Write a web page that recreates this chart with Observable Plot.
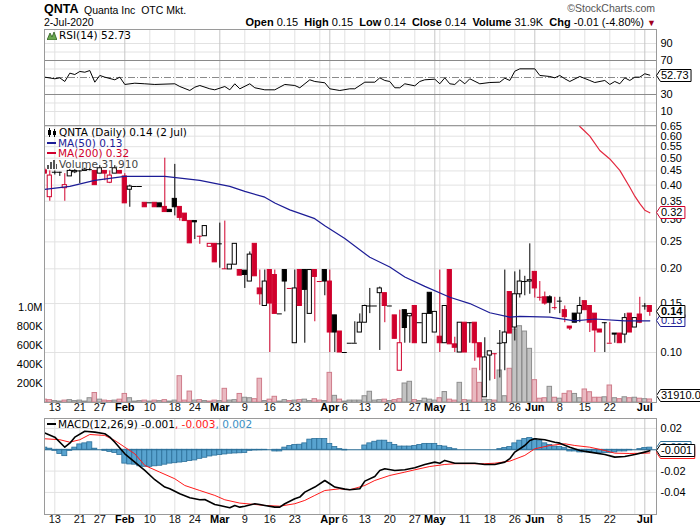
<!DOCTYPE html>
<html><head><meta charset="utf-8">
<script src="https://cdn.jsdelivr.net/npm/d3@7"></script>
<script src="https://cdn.jsdelivr.net/npm/@observablehq/plot@0.6"></script>
<style>
body{margin:0;background:#fff;}
#chart{position:relative;width:700px;height:530px;overflow:hidden;font-family:"Liberation Sans",Arial,sans-serif;color:#000;}
.t{position:absolute;line-height:1;white-space:nowrap;}
.lg{font-family:"DejaVu Sans",Verdana,sans-serif;font-size:10.5px;}
.dash{display:inline-block;width:9px;height:2px;vertical-align:middle;margin-right:2px;position:relative;top:-1px;}
</style></head><body>
<div id="chart"></div>
<script>
// ---------- data ----------
const days = ("01-09 01-10 01-13 01-14 01-15 01-16 01-17 01-21 01-22 01-23 01-24 01-27 01-28 01-29 01-30 01-31 " +
 "02-03 02-04 02-05 02-06 02-07 02-10 02-11 02-12 02-13 02-14 02-18 02-19 02-20 02-21 02-24 02-25 02-26 02-27 02-28 " +
 "03-02 03-03 03-04 03-05 03-06 03-09 03-10 03-11 03-12 03-13 03-16 03-17 03-18 03-19 03-20 03-23 03-24 03-25 03-26 03-27 03-30 03-31 " +
 "04-01 04-02 04-03 04-06 04-07 04-08 04-09 04-13 04-14 04-15 04-16 04-17 04-20 04-21 04-22 04-23 04-24 04-27 04-28 04-29 04-30 " +
 "05-01 05-04 05-05 05-06 05-07 05-08 05-11 05-12 05-13 05-14 05-15 05-18 05-19 05-20 05-21 05-22 05-26 05-27 05-28 05-29 " +
 "06-01 06-02 06-03 06-04 06-05 06-08 06-09 06-10 06-11 06-12 06-15 06-16 06-17 06-18 06-19 06-22 06-23 06-24 06-25 06-26 06-29 06-30 " +
 "07-01 07-02").split(" ");

const open = [.452,.362,.445,.445,.39,.43,.445,.45,.45,.455,
 .45,.44,.45,.408,.44,.45,.43,.385,.3955,.3955,
 .3455,.3455,.3455,.344,.334,.326,.357,.334,.316,.297,
 .297,.262,.262,.240,.246,.246,.20,.199,.207,.198,
 .197,.18,.246,.17,.147,.198,.19,.1377,.198,.17,
 .108,.198,.198,.1377,.198,.18,.198,.18,.136,.119,
 .10,.108,.108,.118,.128,.147,.147,.1635,.1635,.147,
 .136,.086,.142,.135,.147,.128,.108,.164,.118,.114,
 .108,.198,.107,.10,.128,.128,.128,.108,.069,.0975,
 .099,.108,.108,.165,.123,.162,.18,.18,.195,.158,
 .158,.158,.145,.153,.142,.124,.138,.138,.153,.147,
 .138,.121,.128,.108,.117,.117,.116,.138,.123,.137,
 .147,.147];
const high = [.46,.45,.45,.445,.44,.455,.455,.45,.46,.46,
 .45,.47,.45,.45,.47,.45,.44,.40,.3955,.3955,
 .3455,.3455,.3455,.344,.50,.326,.475,.334,.316,.297,
 .297,.262,.285,.246,.246,.292,.297,.207,.246,.198,
 .197,.23,.246,.198,.198,.198,.198,.1377,.198,.17,
 .198,.198,.198,.198,.198,.18,.198,.198,.136,.119,
 .10,.108,.129,.1377,.148,.17,.147,.172,.1635,.147,
 .136,.142,.142,.1377,.147,.128,.1377,.164,.14,.198,
 .147,.198,.1135,.128,.128,.128,.128,.108,.113,.101,
 .099,.12,.198,.165,.195,.198,.188,.246,.195,.18,
 .165,.16,.158,.158,.147,.124,.138,.158,.153,.147,
 .138,.121,.128,.128,.117,.117,.138,.138,.133,.158,
 .15,.147];
const low = [.44,.35,.435,.43,.35,.43,.44,.405,.45,.45,
 .40,.44,.415,.405,.44,.44,.344,.333,.3955,.3955,
 .333,.3455,.333,.333,.32,.32,.31,.297,.297,.247,
 .255,.245,.262,.240,.211,.201,.199,.199,.207,.189,
 .17,.18,.188,.148,.147,.10,.1377,.1377,.14,.17,
 .108,.147,.108,.1377,.129,.18,.16,.10,.10,.10,
 .10,.108,.108,.118,.128,.138,.147,.1017,.128,.147,
 .112,.086,.108,.108,.108,.128,.108,.1377,.118,.10,
 .108,.107,.10,.10,.10,.108,.093,.086,.069,.079,
 .08,.081,.086,.117,.11,.157,.16,.162,.157,.153,
 .148,.138,.142,.138,.128,.12,.128,.128,.142,.118,
 .10,.118,.10,.108,.108,.108,.108,.118,.123,.127,
 .142,.135];
const close = [.44,.433,.445,.445,.40,.45,.45,.45,.455,.455,
 .40,.46,.44,.433,.46,.44,.344,.3955,.3955,.3955,
 .333,.3455,.333,.333,.32,.32,.333,.305,.297,.247,
 .294,.262,.285,.246,.211,.246,.20,.207,.246,.189,
 .19,.225,.188,.162,.18,.150,.1377,.1377,.18,.17,
 .17,.147,.168,.198,.187,.18,.18,.118,.118,.10,
 .10,.108,.108,.128,.147,.147,.147,.17,.147,.147,
 .112,.108,.1225,.1377,.108,.128,.1377,.1377,.14,.108,
 .147,.107,.104,.128,.10,.128,.108,.096,.096,.101,
 .099,.108,.118,.117,.162,.18,.18,.182,.17,.158,
 .15,.151,.145,.153,.134,.122,.128,.147,.142,.128,
 .12,.118,.128,.108,.116,.108,.133,.118,.133,.128,
 .147,.14];
const volumeK = [30,25,15,10,20,25,15,20,10,45,
 100,30,20,15,20,30,90,45,10,15,
 20,10,20,15,25,10,20,277,20,115,
 20,25,15,10,20,15,144,20,25,90,
 50,45,35,250,15,30,60,10,25,15,
 20,25,30,15,35,20,15,312,70,30,
 10,20,20,20,66,113,20,25,30,15,
 25,35,200,218,25,15,40,30,20,45,
 110,30,20,207,25,20,355,207,30,25,
 20,337,66,355,768,803,747,565,235,40,
 45,165,50,40,91,117,90,45,137,108,
 50,50,55,179,45,35,55,45,50,40,
 35,31.91];

const ma50 = [["01-09",.386],["01-16",.396],["01-24",.416],["02-03",.430],["02-13",.430],["02-25",.416],["03-04",.396],
 ["03-09",.380],["03-13",.362],["03-17",.345],["03-20",.326],["03-27",.303],["03-31",.286],["04-06",.257],["04-14",.220],
 ["04-20",.203],["04-23",.187],["04-29",.173],["05-06",.158],["05-12",.150],["05-18",.139],["05-22",.134],["05-27",.135],
 ["06-04",.134],["06-11",.130],["06-17",.132],["06-25",.130],["07-02",.130]];
const ma200 = [["06-12",.650],["06-15",.625],["06-16",.600],["06-18",.533],["06-22",.497],["06-24",.452],["06-26",.393],
 ["06-29",.365],["06-30",.343],["07-01",.325],["07-02",.318]];

const rsi = [["01-09",50.4],["01-13",48.5],["01-14",49.6],["01-15",45.3],["01-16",55.1],["01-17",53.5],["01-21",57.1],["01-22",56.2],["01-23",58.2],
 ["01-24",44.5],["01-27",52.4],["01-28",50.4],["01-30",47.3],["01-31",50.4],["02-03",41.8],["02-05",43.3],["02-07",42.6],["02-11",41.8],
 ["02-18",42.6],["02-19",39.4],["02-21",34.7],["02-24",38.6],["02-25",40.6],["02-27",36.7],["02-28",35.5],["03-03",39.4],["03-04",35.5],
 ["03-05",42.6],["03-06",36.7],["03-10",42.6],["03-11",37.9],["03-13",35.5],["03-17",35.5],["03-19",41.8],["03-23",40.6],["03-24",37.9],
 ["03-26",47.3],["03-27",45.3],["03-31",43.8],["04-01",36.7],["04-03",34.7],["04-07",36.7],["04-08",36.7],["04-13",44.5],["04-15",44.5],
 ["04-16",49.6],["04-17",46.5],["04-20",45.3],["04-21",37.9],["04-22",37.9],["04-23",42.6],["04-27",40.2],["04-28",45.3],["04-29",47.3],
 ["05-01",48.0],["05-04",42.6],["05-05",49.6],["05-06",42.6],["05-07",41.8],["05-08",47.3],["05-11",42.6],["05-12",48.5],["05-14",42.6],
 ["05-18",44.1],["05-20",44.5],["05-21",49.2],["05-22",46.5],["05-26",57.4],["05-27",60.2],["06-01",60.2],["06-02",52.4],["06-04",51.2],
 ["06-05",49.6],["06-08",52.4],["06-09",48.5],["06-10",45.3],["06-12",51.2],["06-16",46.5],["06-17",44.1],["06-19",46.5],["06-22",41.8],
 ["06-23",45.3],["06-24",42.6],["06-25",49.6],["06-26",46.5],["06-29",50.4],["06-30",50.4],["07-01",54.4],["07-02",52.73]];

const macd = [["01-09",.0156],["01-13",.0118],["01-15",.0024],["01-16",.0062],["01-17",.0118],["01-22",.0174],["01-24",.0165],["01-28",.015],
 ["01-29",.0118],["01-30",.0071],["02-03",-.0038],["02-05",-.0116],["02-07",-.0194],["02-11",-.0281],["02-13",-.035],["02-14",-.0366],
 ["02-19",-.0413],["02-21",-.045],["02-25",-.0469],["02-26",-.0466],["02-28",-.0513],["03-02",-.0522],["03-04",-.0544],["03-05",-.0522],
 ["03-06",-.0538],["03-09",-.0529],["03-11",-.0506],["03-12",-.0513],["03-13",-.0522],["03-17",-.0538],["03-18",-.0538],["03-19",-.0506],
 ["03-23",-.0459],["03-24",-.0444],["03-25",-.0397],["03-27",-.035],["03-31",-.0288],["04-01",-.0319],["04-02",-.035],["04-06",-.0369],
 ["04-07",-.0375],["04-09",-.0366],["04-13",-.0294],["04-15",-.025],["04-16",-.0194],["04-17",-.0178],["04-21",-.0194],["04-23",-.0188],
 ["04-27",-.0169],["04-29",-.0138],["05-01",-.0116],["05-04",-.0126],["05-05",-.01],["05-07",-.0126],["05-11",-.0126],["05-13",-.0126],
 ["05-15",-.0138],["05-19",-.0138],["05-21",-.0116],["05-22",-.0084],["05-26",-.0022],["05-28",.004],["05-29",.0087],["06-01",.0103],
 ["06-03",.0094],["06-05",.0071],["06-08",.0062],["06-10",.0024],["06-12",-.0007],["06-16",-.0022],["06-19",-.0044],["06-23",-.0069],
 ["06-25",-.0063],["06-29",-.0044],["07-01",-.0022],["07-02",-.001]];
const signal = [["01-09",.0103],["01-14",.0094],["01-16",.0071],["01-21",.0094],["01-23",.0143],["01-28",.0134],["01-30",.0087],["02-03",.0024],
 ["02-05",-.0038],["02-07",-.0147],["02-12",-.021],["02-18",-.0272],["02-20",-.0335],["02-25",-.0382],["02-28",-.0428],["03-03",-.0469],
 ["03-06",-.05],["03-11",-.0513],["03-13",-.0522],["03-18",-.0529],["03-23",-.0506],["03-25",-.0475],["03-27",-.0428],["03-31",-.0382],
 ["04-03",-.0366],["04-07",-.0375],["04-13",-.0335],["04-15",-.0288],["04-20",-.0241],["04-23",-.021],["04-27",-.0188],["04-30",-.0157],
 ["05-05",-.0138],["05-07",-.0131],["05-12",-.0131],["05-15",-.0131],["05-19",-.0126],["05-22",-.0107],["05-28",-.0053],["06-01",.0009],
 ["06-04",.004],["06-09",.0056],["06-11",.004],["06-16",.0024],["06-19",-.0007],["06-23",-.0032],["06-26",-.0035],["07-01",-.0032],["07-02",-.003]];
const hist = [.002,.001,-.001,-.004,-.006,-.001,.002,.005,.006,.007,
 .001,0,-.001,-.002,-.003,-.005,-.013,-.0138,-.014,-.0155,
 -.016,-.016,-.0155,-.015,-.014,-.013,-.0126,-.012,-.0115,-.0106,
 -.010,-.0085,-.0075,-.0063,-.0055,-.005,-.0044,-.0037,-.0035,-.0033,
 -.003,-.001,-.0006,-.0005,-.0004,0,-.0016,-.0016,.002,.0035,
 .0045,.0047,.006,.0095,.010,.010,.010,.0055,.0025,.0006,
 -.0006,0,0,0,.004,.006,.0075,.0085,.0085,.0065,
 .0045,.003,.003,.003,.0035,.0045,.0055,.0055,.0055,.0035,
 .003,.0015,.0005,0,0,0,0,0,0,0,
 0,.0006,.0016,.0025,.006,.0085,.010,.011,.010,.0085,
 .006,.0045,.003,.0025,.0015,-.0016,-.0016,-.0025,-.0025,-.0025,
 -.003,-.003,-.003,-.003,-.0025,-.0016,-.0016,-.0006,0,.0006,
 .0016,.002];

const tickDays = ["01-13","01-21","01-27","02-03","02-10","02-18","02-24","03-02","03-09","03-16","03-23","04-01","04-06",
 "04-13","04-20","04-27","05-01","05-11","05-18","05-26","06-01","06-08","06-15","06-22","07-01"];
const tickLabels = ["13","21","27","Feb","10","18","24","Mar","9","16","23","Apr","6","13","20","27","May","11","18","26","Jun","8","15","22","Jul"];
const extraGridDays = ["03-30","05-04","06-29"];
const priceTicks = [0.10,0.15,0.20,0.25,0.30,0.35,0.40,0.45,0.50,0.55,0.60,0.65];
const volTicks = [200000,400000,600000,800000,1000000];
const rsiTicks = [10,30,70,90];
const macdTicks = [0.02,-0.02,-0.04];

// ---------- derived tables ----------
const ix = d => days.indexOf(d);
const bars = days.map((d, i) => ({
  i, o: open[i], h: high[i], l: low[i], c: close[i], v: volumeK[i] * 1000,
  up: close[i] >= (i > 0 ? close[i - 1] : open[i])
}));
const pairs = arr => arr.map(([d, v]) => ({i: ix(d), v}));
const ticks = tickDays.map((d, k) => ({i: ix(d), label: tickLabels[k], month: /^[A-Z]/.test(tickLabels[k])}));
const monthIdx = ticks.filter(t => t.month).map(t => t.i);
const weekIdx = ticks.filter(t => !t.month).map(t => t.i).concat(extraGridDays.map(ix));

const RED = "#d0002c", BLK = "#000";
const GRID = "#e2e2e2", MGRID = "#c6c6c6", FRAME = "#9a9a9a";
const X = {type: "linear", domain: [-0.06, 122.34], axis: null};
const base = {width: 700, marginLeft: 44, marginRight: 44, style: {background: "transparent", fontFamily: "Liberation Sans, Arial, sans-serif", fontSize: "11px", color: "#000", overflow: "visible"}};
const vgrid = [
  Plot.ruleX(weekIdx, {x: d => d, stroke: GRID}),
  Plot.ruleX(monthIdx, {x: d => d, stroke: MGRID})
];
const root = document.getElementById("chart");
function place(svg, top) {
  svg.style.position = "absolute";
  svg.style.left = "0px";
  svg.style.top = top + "px";
  svg.style.maxWidth = "none";
  root.appendChild(svg);
  return svg;
}
function tag(plot, yv, txt, o) {
  const y = Math.round(plot.scale("y").apply(yv)) + 0.5;
  const g = d3.select(plot).append("g").attr("text-anchor", "start");
  const p = g.append("path");
  const t = g.append("text").attr("x", 661).attr("y", y).attr("dy", "0.36em").text(txt)
    .attr("text-anchor", "start")
    .attr("font-size", 11).attr("font-family", "Liberation Sans, Arial, sans-serif")
    .attr("fill", o.color || "#000").attr("font-weight", o.bold ? "bold" : "normal");
  const w = t.node().getComputedTextLength();
  const h = 6;
  p.attr("d", `M656.5,${y} L660.5,${y - h} L${663.5 + w},${y - h} L${663.5 + w},${y + h} L660.5,${y + h} Z`)
   .attr("fill", "#fff").attr("stroke", o.stroke || "#000");
}
const yAxis = (t, opts) => Plot.axisY(t, {tickSize: 0, fontSize: 11, label: null, ...opts});

// ---------- RSI panel (frame 29..125) ----------
const rsiPlot = Plot.plot({...base, height: 116, marginTop: 10, marginBottom: 10, x: X,
  y: {domain: [-6.5, 106.5], axis: null},
  marks: [
    Plot.ruleY([10,20,40,60,80,90], {stroke: GRID}),
    ...vgrid,
    Plot.ruleY([70,30], {stroke: "#8a8a8a"}),
    Plot.ruleY([50], {stroke: "#8a8a8a", strokeDasharray: "7,2,1,2"}),
    Plot.line(pairs(rsi), {x: "i", y: "v", stroke: "#000", strokeWidth: 1, clip: true}),
    yAxis(rsiTicks, {anchor: "right", tickPadding: 4}),
    Plot.frame({stroke: FRAME})
  ]});
place(rsiPlot, 19);

// ---------- main panel grid layer (frame 125..402) ----------
const priceY = {type: "log", domain: [0.0661, 0.6555], axis: null};
const gridPlot = Plot.plot({...base, height: 307, marginTop: 10, marginBottom: 20, x: X, y: priceY,
  marks: [
    Plot.ruleY(priceTicks, {stroke: GRID}),
    ...vgrid,
    yAxis(priceTicks, {anchor: "right", tickPadding: 4, tickFormat: d => d.toFixed(2)}),
    Plot.text(ticks.filter(t => !t.month), {x: "i", text: "label", frameAnchor: "bottom", dy: 8, fontSize: 11, fill: "#111"}),
    Plot.text(ticks.filter(t => t.month), {x: "i", text: "label", frameAnchor: "bottom", dy: 8, fontSize: 11, fontWeight: "bold", fill: "#000"})
  ]});
place(gridPlot, 115);

// ---------- volume layer ----------
const volPlot = Plot.plot({...base, height: 307, marginTop: 10, marginBottom: 20, x: X,
  y: {domain: [0, 2916000], axis: null},
  marks: [
    Plot.rectY(bars, {x1: d => d.i - 0.45, x2: d => d.i + 0.45, y: "v",
      fill: d => d.up ? "#c3c3c3" : "#e9b9c1", stroke: d => d.up ? "#8e8e8e" : "#cf7d8b", clip: true}),
    yAxis(volTicks, {anchor: "left", tickPadding: 2,
      tickFormat: d => d >= 1e6 ? (d / 1e6).toFixed(1) + "M" : (d / 1e3) + "K"})
  ]});
place(volPlot, 115);

// ---------- candles layer ----------
const doji = bars.filter(d => d.o === d.c);
const body = bars.filter(d => d.o !== d.c);
const candlePlot = Plot.plot({...base, height: 307, marginTop: 10, marginBottom: 20, x: X, y: priceY,
  marks: [
    Plot.ruleX(bars, {x: "i", y1: "l", y2: "h", stroke: d => d.up ? BLK : RED, clip: true}),
    Plot.rect(body, {x1: d => d.i - 0.42, x2: d => d.i + 0.42, y1: "o", y2: "c",
      fill: d => d.c > d.o ? "#fff" : (d.up ? BLK : RED), stroke: d => d.up ? BLK : RED, clip: true}),
    Plot.ruleY(doji, {y: "c", x1: d => d.i - 0.5, x2: d => d.i + 0.5, stroke: d => d.up ? BLK : RED, clip: true}),
    Plot.line(pairs(ma50), {x: "i", y: "v", stroke: "#1c1c96", strokeWidth: 1.2, clip: true}),
    Plot.line(pairs(ma200), {x: "i", y: "v", stroke: "#e3283f", strokeWidth: 1.2, clip: true}),
    Plot.frame({stroke: FRAME})
  ]});
place(candlePlot, 115);

// ---------- MACD panel (frame 418..514) ----------
const hbars = hist.map((v, i) => ({i, v}));
const macdPlot = Plot.plot({...base, height: 122, marginTop: 10, marginBottom: 16, x: X,
  y: {domain: [-0.0607, 0.0293], axis: null},
  marks: [
    Plot.ruleY([0.02, 0, -0.02, -0.04], {stroke: GRID}),
    ...vgrid,
    Plot.rectY(hbars, {x1: d => d.i - 0.5, x2: d => d.i + 0.5, y: "v", fill: "#58a3cf", stroke: "#2b6f99", strokeWidth: 0.8, clip: true}),
    Plot.ruleY([0], {stroke: "#2b6f99"}),
    Plot.line(pairs(signal), {x: "i", y: "v", stroke: "#ff1a1a", strokeWidth: 1, clip: true}),
    Plot.line(pairs(macd), {x: "i", y: "v", stroke: "#000", strokeWidth: 1.6, clip: true}),
    yAxis(macdTicks, {anchor: "right", tickPadding: 4, tickFormat: d => d.toFixed(2)}),
    Plot.text(ticks.filter(t => !t.month), {x: "i", text: "label", frameAnchor: "bottom", dy: 8, fontSize: 11, fill: "#111"}),
    Plot.text(ticks.filter(t => t.month), {x: "i", text: "label", frameAnchor: "bottom", dy: 8, fontSize: 11, fontWeight: "bold", fill: "#000"}),
    Plot.frame({stroke: FRAME})
  ]});
place(macdPlot, 408);

// ---------- value tags ----------
const last = bars[bars.length - 1];
tag(rsiPlot, rsi[rsi.length - 1][1], rsi[rsi.length - 1][1].toFixed(2), {});
tag(candlePlot, ma200[ma200.length - 1][1], "0.32", {stroke: "#d0002c"});
tag(candlePlot, ma50[ma50.length - 1][1], "0.13", {stroke: "#1c1c96", color: "#1c1c96"});
tag(candlePlot, last.c, last.c.toFixed(2), {bold: true});
tag(volPlot, Math.max(last.v, 70000), (last.v).toFixed(1), {});
tag(macdPlot, signal[signal.length - 1][1], "-0.003", {stroke: "#ff1a1a", color: "#ff1a1a"});
tag(macdPlot, hist[hist.length - 1], "0.002", {stroke: "#2b6f99", color: "#2b6f99"});
tag(macdPlot, macd[macd.length - 1][1], "-0.001", {});

// ---------- text: header & legends ----------
const html = `
<div class="t" style="left:44px;top:3px;font-size:12.5px;font-weight:bold;">QNTA</div>
<div class="t" style="left:84px;top:5px;font-size:10.5px;">Quanta Inc&nbsp; OTC Mkt.</div>
<div class="t" style="left:44px;top:16.5px;font-size:10.5px;">2-Jul-2020</div>
<div class="t" style="right:45px;top:3px;font-size:10.5px;color:#555;">&copy;StockCharts.com</div>
<div class="t" style="right:44px;top:16.5px;font-size:11px;">
<b>Open</b> 0.15&nbsp; <b>High</b> 0.15&nbsp; <b>Low</b> 0.14&nbsp; <b>Close</b> 0.14&nbsp; <b>Volume</b> 31.9K&nbsp; <b>Chg</b> -0.01 (-4.80%) <span style="color:#a0001e;font-size:9px;">&#9660;</span></div>
<div class="t lg" style="left:47px;top:30px;"><svg width="10" height="9" style="vertical-align:-1px;margin-right:2px"><path d="M0,9 L3,2 L5,6 L7,1 L10,9 Z" fill="#6aa84f" stroke="#2d5a1f" stroke-width="0.8"/></svg>RSI(14) 52.73</div>
<div class="t lg" style="left:47px;top:127px;"><svg width="10" height="9" style="vertical-align:-1px;margin-right:2px"><rect x="1" y="2" width="3" height="5" fill="#000"/><line x1="2.5" y1="0" x2="2.5" y2="9" stroke="#000"/><rect x="6" y="3" width="3" height="4" fill="#000"/><line x1="7.5" y1="1" x2="7.5" y2="9" stroke="#000"/></svg>QNTA (Daily) 0.14 (2 Jul)</div>
<div class="t lg" style="left:47px;top:137.5px;color:#1c1c96;"><span class="dash" style="background:#1c1c96"></span>MA(50) 0.13</div>
<div class="t lg" style="left:47px;top:148px;color:#d0002c;"><span class="dash" style="background:#d0002c"></span>MA(200) 0.32</div>
<div class="t lg" style="left:47px;top:158.5px;color:#444;"><svg width="10" height="9" style="vertical-align:-1px;margin-right:2px"><rect x="0" y="5" width="2" height="4" fill="#555"/><rect x="3" y="2" width="2" height="7" fill="#555"/><rect x="6" y="0" width="2" height="9" fill="#555"/><rect x="9" y="4" width="1" height="5" fill="#555"/></svg>Volume 31,910</div>
<div class="t lg" style="left:47px;top:419px;"><span class="dash" style="background:#000;height:2.5px"></span>MACD(12,26,9) -0.001<span style="color:#ff1a1a">, -0.003</span><span style="color:#3a8fc4">, 0.002</span></div>
`;
root.insertAdjacentHTML("beforeend", html);
</script>
</body></html>
